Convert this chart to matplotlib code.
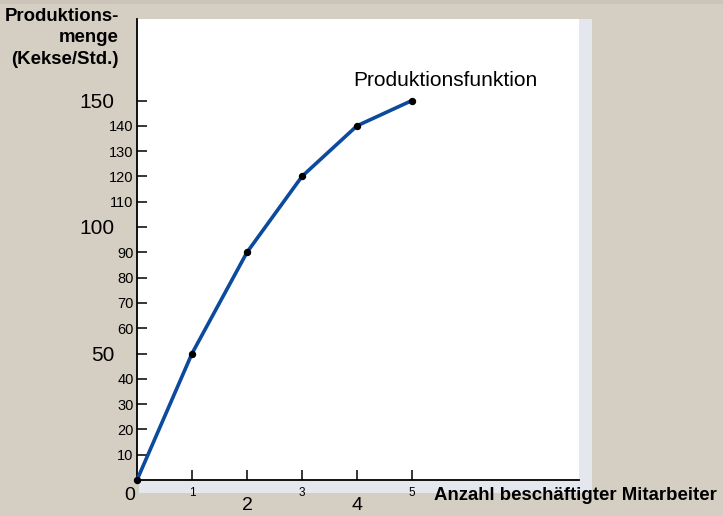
import matplotlib.pyplot as plt
from matplotlib.patches import Rectangle

# ======================
# Data
# ======================

mitarbeiter = [0, 1, 2, 3, 4, 5]
menge = [0, 50, 90, 120, 140, 150]

y_ticks = [10, 20, 30, 40, 50, 60, 70, 80, 90, 100, 110, 120, 130, 140, 150]
y_big = [50, 100, 150]
x_ticks = [1, 2, 3, 4, 5]
x_big = [2, 4]

plt.rcParams["font.family"] = ["Liberation Sans", "DejaVu Sans"]

W, H = 723, 516
fig = plt.figure(figsize=(W / 100, H / 100), dpi=100)
fig.patch.set_facecolor("#d4cec3")

# slightly darker band along the top edge
fig.patches.append(Rectangle(
    (0, 1 - 4 / H), 1, 4 / H,
    transform=fig.transFigure, facecolor="#cbc5ba", edgecolor="none", zorder=0
))

# grey shadow panel behind the plot area
fig.patches.append(Rectangle(
    (139 / W, (H - 493) / H), (592 - 139) / W, (493 - 19) / H,
    transform=fig.transFigure, facecolor="#e4e7ee", edgecolor="none", zorder=0
))

ax = fig.add_axes([137 / W, (H - 480) / H, (579 - 137) / W, (480 - 19) / H])
ax.set_zorder(2)
ax.set_facecolor("white")

ax.plot(mitarbeiter, menge, color="#0b4a9c", linewidth=2.6, zorder=3,
        clip_on=False)
ax.plot(mitarbeiter, menge, "o", color="black", markersize=4.3, zorder=4,
        clip_on=False)

ax.set_xlim(0, 442 / 55)
ax.set_ylim(0, 461 / 2.53)

for s in ["top", "right"]:
    ax.spines[s].set_visible(False)
for s in ["left", "bottom"]:
    ax.spines[s].set_linewidth(1.3)

ax.tick_params(direction="in", length=7, width=1.1, colors="black")

# y ticks: big and small labels
ax.set_yticks(y_ticks)
ax.set_yticklabels([str(v) for v in y_ticks])
for v, tick in zip(y_ticks, ax.yaxis.get_major_ticks()):
    if v in y_big:
        tick.label1.set_fontsize(15)
        tick.set_pad(16)
    else:
        tick.label1.set_fontsize(10.5)
        tick.set_pad(2.5)

# x ticks: alternating big and small labels
ax.set_xticks(x_ticks)
ax.set_xticklabels([str(v) for v in x_ticks])
for v, tick in zip(x_ticks, ax.xaxis.get_major_ticks()):
    if v in x_big:
        tick.label1.set_fontsize(14)
        tick.set_pad(12)
    else:
        tick.label1.set_fontsize(8.5)
        tick.set_pad(5)

ax.annotate("0", (0, 0), xytext=(-5, -11), textcoords="offset points",
            ha="center", va="center", fontsize=14, annotation_clip=False)

# axis titles
fig.text(119 / W, 1 - 8 / H, "Produktions-\nmenge\n(Kekse/Std.)",
         ha="right", va="top", fontsize=13.4, fontweight="bold",
         linespacing=1.33)
fig.text(434 / W, 1 - 495 / H, "Anzahl beschäftigter Mitarbeiter",
         ha="left", va="center", fontsize=13.4, fontweight="bold")

ax.text(3.93, 158, "Produktionsfunktion", ha="left", va="center",
        fontsize=15)

fig.savefig("out.png", dpi=100, facecolor=fig.get_facecolor())
